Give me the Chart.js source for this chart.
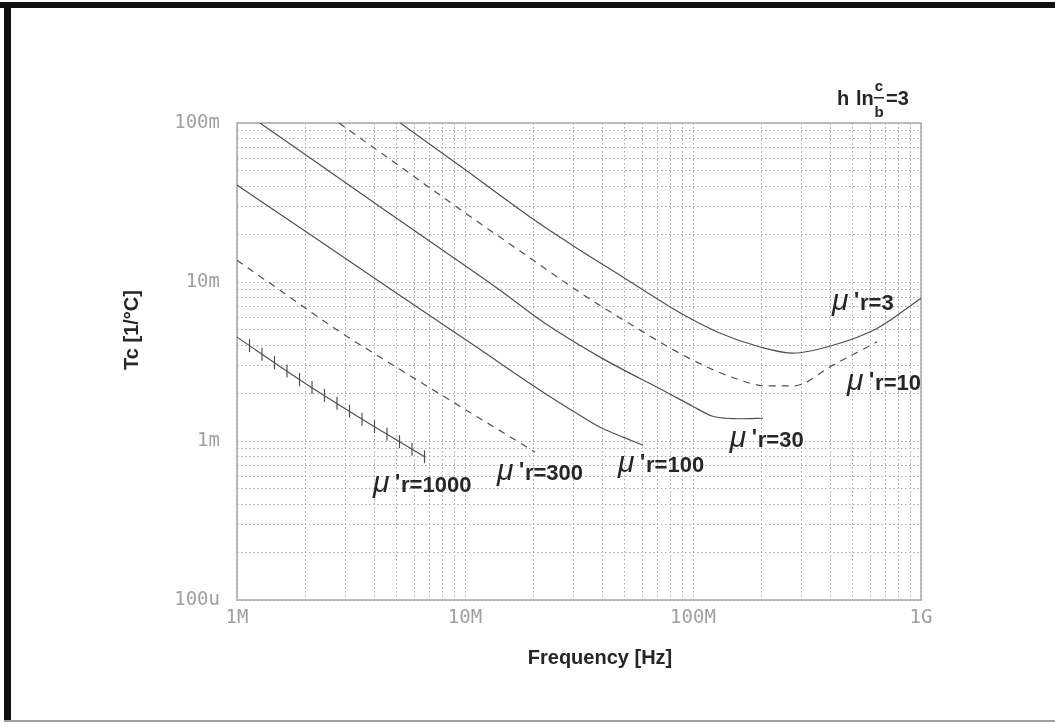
<!DOCTYPE html>
<html>
<head>
<meta charset="utf-8">
<script src="https://cdn.jsdelivr.net/npm/chart.js@4/dist/chart.umd.min.js"></script>
<style>
  html, body { margin: 0; padding: 0; background: #fff; }
  #wrap { width: 1055px; height: 725px; }
</style>
</head>
<body>
<div id="wrap"><canvas id="tcChart" width="1055" height="725"></canvas></div>
<script>
// Tc against frequency for several mu'r values
var curveLabels = ["3", "10", "30", "100", "300", "1000"];

var freqMu3 = [5.2e6, 10e6, 20e6, 30e6, 50e6, 87.7e6, 130e6, 197e6, 275e6, 411e6, 641e6, 1e9];
var tcMu3 = [0.1, 0.051, 0.0247, 0.0168, 0.0106, 0.0064, 0.0048, 0.0039, 0.00357, 0.0040, 0.0051, 0.0079];

var freqMu10 = [2.8e6, 4.37e6, 10.2e6, 20.7e6, 31.9e6, 54.6e6, 94.1e6, 150e6, 211e6, 275e6, 411e6, 641e6];
var tcMu10 = [0.1, 0.0635, 0.0267, 0.0132, 0.0086, 0.0053, 0.00337, 0.0025, 0.00222, 0.00222, 0.0030, 0.0042];

var freqMu30 = [1.26e6, 2.92e6, 6.54e6, 14.2e6, 22e6, 39.1e6, 76.9e6, 100e6, 122e6, 140e6, 161e6, 203e6];
var tcMu30 = [0.1, 0.0432, 0.0193, 0.0089, 0.0056, 0.00337, 0.00202, 0.00165, 0.00143, 0.00139, 0.00138, 0.00139];

var freqMu100 = [1e6, 1.95e6, 4.37e6, 8.6e6, 12e6, 20.7e6, 29.8e6, 39.1e6, 50e6, 60.4e6];
var tcMu100 = [0.0407, 0.0213, 0.0097, 0.00505, 0.00365, 0.00215, 0.00154, 0.00122, 0.00105, 0.00094];

var freqMu300 = [1e6, 1.6e6, 2.75e6, 5e6, 10e6, 15e6, 20.3e6];
var tcMu300 = [0.0137, 0.00856, 0.00499, 0.00291, 0.00158, 0.00111, 0.00085];

var freqMu1000 = [1e6, 1.89e6, 3.57e6, 6.16e6, 6.7e6];
var tcMu1000 = [0.0045, 0.00242, 0.00136, 0.00085, 0.00079];

// where each curve name sits (left edge, text baseline), in data units
var labelFreq = [407e6, 474e6, 145e6, 46.9e6, 13.8e6, 3.95e6];
var labelTc = [6.67e-3, 2.09e-3, 0.917e-3, 0.638e-3, 0.568e-3, 0.478e-3];

var xDecades = [1e6, 1e7, 1e8, 1e9];
var xDecadeLabels = ["1M", "10M", "100M", "1G"];
var yDecades = [1e-4, 1e-3, 1e-2, 1e-1];
var yDecadeLabels = ["100u", "1m", "10m", "100m"];

var xTitle = "Frequency [Hz]";
var yTitle = "Tc [1/°C]";

var lineColor = "#505050";
var gridColor = "#ababab";
var tickColor = "#a0a0a0";
var textColor = "#262626";

function toPoints(f, t) {
  return f.map(function (v, i) { return { x: v, y: t[i] }; });
}

// decade lines plus the 2..9 minors
function logGrid(decades) {
  var vals = [];
  decades.forEach(function (d, i) {
    vals.push(d);
    if (i < decades.length - 1) {
      for (var m = 2; m <= 9; m++) vals.push(d * m);
    }
  });
  return vals;
}

var datasets = [
  { label: curveLabels[0], data: toPoints(freqMu3, tcMu3), borderDash: [] },
  { label: curveLabels[1], data: toPoints(freqMu10, tcMu10), borderDash: [7, 6] },
  { label: curveLabels[2], data: toPoints(freqMu30, tcMu30), borderDash: [] },
  { label: curveLabels[3], data: toPoints(freqMu100, tcMu100), borderDash: [] },
  { label: curveLabels[4], data: toPoints(freqMu300, tcMu300), borderDash: [7, 6] },
  { label: curveLabels[5], data: toPoints(freqMu1000, tcMu1000), borderDash: [], crossTicks: true }
];
datasets.forEach(function (ds) {
  ds.borderColor = lineColor;
  ds.borderWidth = 1.2;
  ds.pointRadius = 0;
  ds.cubicInterpolationMode = "monotone";
  ds.fill = false;
});

// page frame + plot frame
var framePlugin = {
  id: "frame",
  beforeDraw: function (chart) {
    var ctx = chart.ctx;
    ctx.save();
    ctx.fillStyle = "#fff";
    ctx.fillRect(0, 0, chart.width, chart.height);
    ctx.fillStyle = "#111";
    ctx.fillRect(0, 2, chart.width, 6);
    ctx.fillRect(4, 2, 7, 720);
    ctx.fillStyle = "#a0a0a0";
    ctx.fillRect(4, 720, chart.width, 2);
    ctx.restore();
  },
  beforeDatasetsDraw: function (chart) {
    var a = chart.chartArea, ctx = chart.ctx;
    ctx.save();
    ctx.strokeStyle = "#a8a8a8";
    ctx.lineWidth = 1.5;
    ctx.strokeRect(a.left, a.top, a.right - a.left, a.bottom - a.top);
    ctx.restore();
  }
};

// short vertical strokes along the mu'r=1000 line
var crossTickPlugin = {
  id: "crossTicks",
  afterDatasetsDraw: function (chart) {
    var ctx = chart.ctx;
    chart.data.datasets.forEach(function (ds, i) {
      if (!ds.crossTicks) return;
      var pts = chart.getDatasetMeta(i).data;
      var step = 12.5, next = pts[0].x + step;
      ctx.save();
      ctx.strokeStyle = lineColor;
      ctx.lineWidth = 1.2;
      for (var k = 1; k < pts.length; k++) {
        var a = pts[k - 1], b = pts[k];
        while (next <= b.x + 0.5) {
          var t = (next - a.x) / (b.x - a.x);
          var y = a.y + t * (b.y - a.y);
          ctx.beginPath();
          ctx.moveTo(next, y - 6.5);
          ctx.lineTo(next, y + 6.5);
          ctx.stroke();
          next += step;
        }
      }
      ctx.restore();
    });
  }
};

var textPlugin = {
  id: "texts",
  afterDraw: function (chart) {
    var ctx = chart.ctx, xs = chart.scales.x, ys = chart.scales.y, a = chart.chartArea;
    ctx.save();
    ctx.fillStyle = textColor;

    // curve names
    curveLabels.forEach(function (name, i) {
      var px = xs.getPixelForValue(labelFreq[i]);
      var py = ys.getPixelForValue(labelTc[i]);
      ctx.textAlign = "left";
      ctx.textBaseline = "alphabetic";
      ctx.font = "italic 30px 'Liberation Sans'";
      ctx.fillText("μ", px, py);
      ctx.font = "bold 22px 'Liberation Sans'";
      ctx.fillText("'", px + 22, py - 3);
      ctx.fillText("r=" + name, px + 28, py);
    });

    // axis titles
    ctx.font = "bold 20px 'Liberation Sans'";
    ctx.textAlign = "center";
    ctx.textBaseline = "middle";
    ctx.fillText(xTitle, 600, 658);
    ctx.save();
    ctx.translate(132, 330);
    ctx.rotate(-Math.PI / 2);
    ctx.fillText(yTitle, 0, 0);
    ctx.restore();

    // h ln(c/b)=3 note above the plot
    var r = a.right;
    ctx.textBaseline = "alphabetic";
    ctx.textAlign = "left";
    ctx.font = "bold 20px 'Liberation Sans'";
    ctx.fillText("h", r - 84, 105);
    ctx.fillText("ln", r - 65, 105);
    ctx.fillText("=3", r - 35, 105);
    ctx.textAlign = "center";
    ctx.font = "bold 15px 'Liberation Sans'";
    ctx.fillText("c", r - 42, 91);
    ctx.fillText("b", r - 42, 117);
    ctx.fillRect(r - 47, 97, 10, 1.5);
    ctx.restore();
  }
};

var ctx = document.getElementById("tcChart").getContext("2d");

var tcChart = new Chart(ctx, {
  type: "line",
  data: { datasets: datasets },
  options: {
    responsive: false,
    animation: false,
    devicePixelRatio: 1,
    layout: { padding: { left: 0, top: 123, right: 134, bottom: 0 } },
    plugins: { legend: { display: false }, tooltip: { enabled: false } },
    scales: {
      x: {
        type: "logarithmic",
        min: 1e6,
        max: 1e9,
        afterFit: function (s) { s.height = 125; },
        afterBuildTicks: function (s) {
          s.ticks = logGrid(xDecades).map(function (v) { return { value: v }; });
        },
        grid: { color: gridColor, lineWidth: 1, drawTicks: false },
        border: { display: false, dash: [1.5, 2.5] },
        ticks: {
          autoSkip: false,
          maxRotation: 0,
          padding: 7,
          color: tickColor,
          font: { family: "DejaVu Sans Mono", size: 19 },
          callback: function (v) {
            var i = xDecades.indexOf(v);
            return i >= 0 ? xDecadeLabels[i] : "";
          }
        }
      },
      y: {
        type: "logarithmic",
        min: 1e-4,
        max: 1e-1,
        afterFit: function (s) { s.width = 237; },
        afterBuildTicks: function (s) {
          s.ticks = logGrid(yDecades).map(function (v) { return { value: v }; });
        },
        grid: { color: gridColor, lineWidth: 1, drawTicks: false },
        border: { display: false, dash: [1.5, 2.5] },
        ticks: {
          autoSkip: false,
          padding: 17,
          color: tickColor,
          font: { family: "DejaVu Sans Mono", size: 19 },
          callback: function (v) {
            var i = yDecades.indexOf(v);
            return i >= 0 ? yDecadeLabels[i] : "";
          }
        }
      }
    }
  },
  plugins: [framePlugin, crossTickPlugin, textPlugin]
});
</script>
</body>
</html>
